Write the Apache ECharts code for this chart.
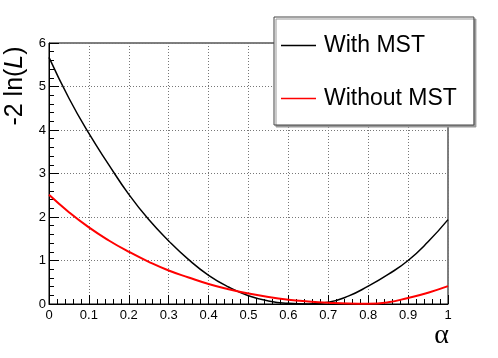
<!doctype html>
<meta charset="utf-8">
<style>
  html, body { margin: 0; padding: 0; width: 100%; height: 100%; background: #fff; }
  #chart { width: 498px; height: 358px; }
</style>
<script src="https://cdn.jsdelivr.net/npm/echarts@6/dist/echarts.min.js"></script>

<div id="chart"></div>

<script>
  // values, alpha in steps of 0.05
  const ALPHA = [0, 0.05, 0.1, 0.15, 0.2, 0.25, 0.3, 0.35, 0.4, 0.45, 0.5,
                 0.55, 0.6, 0.65, 0.7, 0.75, 0.8, 0.85, 0.9, 0.95, 1];
  const WITH_MST = [5.67, 4.73, 3.92, 3.20, 2.52, 1.94, 1.45, 1.02, 0.66, 0.39, 0.19,
                    0.07, 0.015, 0.0, 0.04, 0.18, 0.41, 0.68, 1.0, 1.43, 1.94];
  const WITHOUT_MST = [2.51, 2.11, 1.76, 1.46, 1.20, 0.97, 0.77, 0.61, 0.46, 0.34, 0.24,
                       0.16, 0.10, 0.06, 0.03, 0.01, 0.005, 0.04, 0.14, 0.26, 0.41];
  const NAMES = ['With MST', 'Without MST'];

  const FONT = '"Liberation Sans", Arial, Helvetica, sans-serif';
  let chart = echarts.init(document.getElementById('chart'));

  const axisCommon = {
    type: 'value',
    axisLine: { show: true, lineStyle: { color: '#000', width: 1 } },
    axisLabel: { color: '#000', fontFamily: FONT, fontSize: 13 },
    splitLine: { show: true, lineStyle: { color: '#777', type: [1, 2], width: 1 } },
    minorTick: { show: true, splitNumber: 5, length: 5, lineStyle: { color: '#000' } }
  };

  chart.setOption({
    animation: false,
    grid: {
      left: 49, right: 50, top: 43, bottom: 54,
      show: true, borderColor: '#000', borderWidth: 1
    },
    xAxis: Object.assign({}, axisCommon, {
      min: 0, max: 1, interval: 0.1,
      axisTick: { inside: true, length: 9, lineStyle: { color: '#000' } },
      axisLabel: Object.assign({}, axisCommon.axisLabel, { margin: 5 })
    }),
    yAxis: Object.assign({}, axisCommon, {
      min: 0, max: 6, interval: 1,
      axisTick: { inside: true, length: 10, lineStyle: { color: '#000' } },
      axisLabel: Object.assign({}, axisCommon.axisLabel, { margin: 3 })
    }),
    legend: {
      orient: 'vertical',
      left: 274, top: 17,
      padding: [17, 17, 15, 7],
      itemGap: 30,
      icon: 'rect',
      itemWidth: 35,
      itemHeight: 1.5,
      backgroundColor: '#fff',
      borderColor: '#444',
      borderWidth: 1,
      shadowColor: '#999',
      shadowOffsetX: 2,
      shadowOffsetY: 2,
      shadowBlur: 0,
      textStyle: { color: '#000', fontFamily: FONT, fontSize: 23, padding: [0, 0, 0, 3] },
      data: NAMES
    },
    graphic: [
      {
        type: 'text',
        x: 15, y: 86,
        rotation: Math.PI / 2,
        style: {
          text: '-2 ln({i|L})',
          font: '25px ' + FONT,
          fill: '#000',
          align: 'center',
          verticalAlign: 'middle',
          rich: { i: { fontStyle: 'italic', fontSize: 25, fontFamily: FONT } }
        }
      },
      {
        type: 'text',
        x: 449, y: 336,
        style: {
          text: 'α',
          font: '28px "Liberation Serif", "Times New Roman", serif',
          fill: '#000',
          align: 'right',
          verticalAlign: 'middle'
        }
      }
    ],
    series: [
      {
        name: NAMES[0],
        type: 'line',
        symbol: 'none',
        smooth: 0.5,
        lineStyle: { color: '#000', width: 1.5 },
        itemStyle: { color: '#000' },
        data: ALPHA.map((a, i) => [a, WITH_MST[i]])
      },
      {
        name: NAMES[1],
        type: 'line',
        symbol: 'none',
        smooth: 0.5,
        lineStyle: { color: '#ff0000', width: 2 },
        itemStyle: { color: '#ff0000' },
        data: ALPHA.map((a, i) => [a, WITHOUT_MST[i]])
      }
    ]
  });
</script>
